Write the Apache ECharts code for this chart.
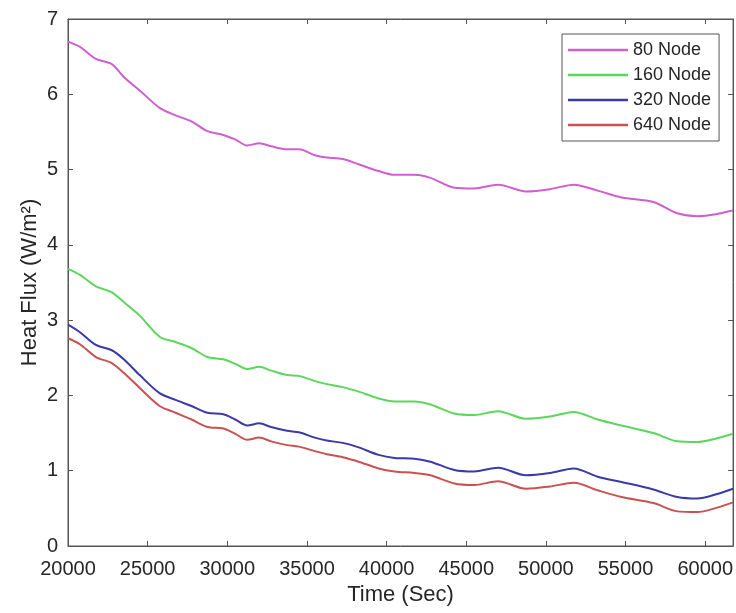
<!DOCTYPE html>
<html>
<head>
<meta charset="utf-8">
<script src="https://cdn.jsdelivr.net/npm/echarts@6/dist/echarts.min.js"></script>
<style>
html,body{margin:0;padding:0;background:#fff;}
#chart{width:736px;height:613px;}
</style>
</head>
<body>
<div id="chart"></div>
<script>
var timeSec = [20000, 20750, 21750, 22750, 23500, 24500, 25750, 26750, 27750, 28750, 29750, 30500, 31250, 32000, 32750, 33750, 34500, 35500, 36250, 37250, 38250, 39500, 40500, 41750, 42750, 44250, 45500, 47000, 48750, 50250, 51750, 53250, 54750, 56750, 58250, 59500, 60750, 61750];
var node80  = [6.70, 6.63, 6.47, 6.40, 6.23, 6.05, 5.82, 5.72, 5.64, 5.51, 5.46, 5.40, 5.32, 5.35, 5.31, 5.27, 5.27, 5.19, 5.16, 5.14, 5.07, 4.98, 4.93, 4.93, 4.89, 4.76, 4.75, 4.80, 4.71, 4.74, 4.80, 4.72, 4.63, 4.57, 4.42, 4.38, 4.41, 4.46];
var node160 = [3.68, 3.60, 3.45, 3.37, 3.24, 3.06, 2.78, 2.71, 2.63, 2.51, 2.48, 2.42, 2.35, 2.38, 2.33, 2.27, 2.26, 2.19, 2.15, 2.11, 2.05, 1.96, 1.92, 1.92, 1.88, 1.76, 1.74, 1.79, 1.69, 1.72, 1.78, 1.68, 1.60, 1.50, 1.39, 1.38, 1.43, 1.49];
var node320 = [2.94, 2.84, 2.67, 2.60, 2.48, 2.27, 2.03, 1.94, 1.86, 1.77, 1.75, 1.68, 1.60, 1.63, 1.58, 1.53, 1.51, 1.44, 1.40, 1.37, 1.31, 1.21, 1.17, 1.16, 1.12, 1.01, 0.99, 1.04, 0.94, 0.97, 1.03, 0.92, 0.85, 0.75, 0.65, 0.63, 0.69, 0.76];
var node640 = [2.76, 2.68, 2.51, 2.43, 2.30, 2.10, 1.86, 1.77, 1.68, 1.58, 1.56, 1.49, 1.41, 1.44, 1.39, 1.34, 1.32, 1.26, 1.22, 1.18, 1.12, 1.03, 0.99, 0.97, 0.94, 0.83, 0.81, 0.86, 0.76, 0.79, 0.84, 0.74, 0.65, 0.57, 0.46, 0.45, 0.51, 0.58];
var seriesNames = ['80 Node', '160 Node', '320 Node', '640 Node'];
var seriesColors = ['#cf5fcf', '#5cd65c', '#3a3aa8', '#c85252'];

function pairs(ys) { return timeSec.map(function (t, i) { return [t, ys[i]]; }); }
var allData = [node80, node160, node320, node640];

var FONT = "'Liberation Sans', Arial, Helvetica, sans-serif";
var AX = '#555555';
var TXT = '#262626';

var chart = echarts.init(document.getElementById('chart'), null, {renderer: 'canvas'});
var xCommon = {type: 'value', min: 20000, max: 61750, interval: 5000};
var yCommon = {type: 'value', min: 0, max: 7, interval: 1};
var tickStyle = {show: true, inside: true, length: 5, lineStyle: {color: AX, width: 1}};
chart.setOption({
  animation: false,
  backgroundColor: '#ffffff',
  textStyle: {fontFamily: FONT},
  grid: {left: 68, right: 2, top: 19, bottom: 67, show: true, borderColor: AX, borderWidth: 1, backgroundColor: 'transparent'},
  legend: {
    orient: 'vertical', left: 562, top: 34, align: 'left',
    padding: [7, 8, 7, 6], itemGap: 7, itemWidth: 60, itemHeight: 2.5, icon: 'rect',
    backgroundColor: '#ffffff', borderColor: AX, borderWidth: 1,
    textStyle: {fontFamily: FONT, fontSize: 18, color: TXT},
    data: seriesNames
  },
  xAxis: [
    Object.assign({}, xCommon, {
      position: 'bottom',
      name: 'Time (Sec)', nameLocation: 'middle', nameGap: 38, nameMoveOverlap: false,
      nameTextStyle: {fontFamily: FONT, fontSize: 22, color: TXT},
      axisLine: {show: true, onZero: false, lineStyle: {color: AX, width: 1}},
      axisTick: tickStyle,
      axisLabel: {show: true, margin: 13, fontFamily: FONT, fontSize: 20, color: TXT, showMaxLabel: false,
        formatter: function (v) { return String(v); }},
      splitLine: {show: false}
    }),
    Object.assign({}, xCommon, {
      position: 'top',
      axisLine: {show: true, onZero: false, lineStyle: {color: AX, width: 1}},
      axisTick: tickStyle,
      axisLabel: {show: false},
      splitLine: {show: false}
    })
  ],
  yAxis: [
    Object.assign({}, yCommon, {
      position: 'left',
      name: 'Heat Flux (W/m²)', nameLocation: 'middle', nameGap: 27, nameRotate: 90, nameMoveOverlap: false,
      nameTextStyle: {fontFamily: FONT, fontSize: 22, color: TXT},
      axisLine: {show: true, onZero: false, lineStyle: {color: AX, width: 1}},
      axisTick: tickStyle,
      axisLabel: {show: true, margin: 10, fontFamily: FONT, fontSize: 20, color: TXT},
      splitLine: {show: false}
    }),
    Object.assign({}, yCommon, {
      position: 'right',
      axisLine: {show: true, onZero: false, lineStyle: {color: AX, width: 1}},
      axisTick: tickStyle,
      axisLabel: {show: false},
      splitLine: {show: false}
    })
  ],
  series: allData.map(function (ys, i) {
    return {
      name: seriesNames[i], type: 'line', xAxisIndex: 0, yAxisIndex: 0,
      data: pairs(ys), showSymbol: false, symbol: 'none', smooth: 0.3,
      lineStyle: {color: seriesColors[i], width: 2},
      itemStyle: {color: seriesColors[i]}
    };
  })
});
</script>
</body>
</html>
